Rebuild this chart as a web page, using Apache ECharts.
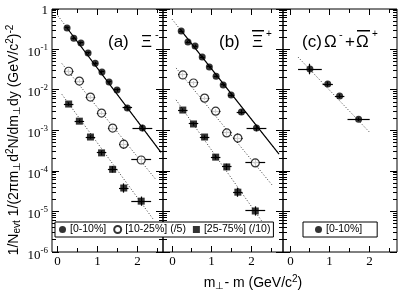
<!DOCTYPE html>
<html><head><meta charset="utf-8">
<script src="https://cdn.jsdelivr.net/npm/echarts@6/dist/echarts.min.js"></script>
<style>html,body{margin:0;padding:0;background:#fff}#c{width:399px;height:292px}</style>
</head><body><div id="c"></div>
<script>
// ---------------- data ----------------
// m_T - m bin centres (GeV/c^2) and half widths
const xFine      = [0.23, 0.40, 0.58, 0.76, 0.94, 1.11, 1.29, 1.49, 1.75, 2.13];
const xFineErr   = [0.06, 0.06, 0.06, 0.06, 0.06, 0.06, 0.06, 0.08, 0.12, 0.25];
const xWide      = [0.27, 0.54, 0.82, 1.10, 1.38, 1.66, 2.10];
const xWideErr   = [0.12, 0.12, 0.12, 0.12, 0.12, 0.12, 0.25];
const xOmega     = [0.50, 0.95, 1.25, 1.73];
const xOmegaErr  = [0.30, 0.13, 0.12, 0.28];

// (a) Xi-
const xiM_0_10    = [0.34, 0.19, 0.145, 0.082, 0.046, 0.028, 0.0158, 0.010, 0.0036, 0.00115];
const xiM_0_10e   = [0.08, 0.08, 0.08, 0.08, 0.08, 0.08, 0.08, 0.1, 0.15, 0.2];
const xiM_10_25   = [0.029, 0.0166, 0.0067, 0.0027, 0.00115, 4.6e-4, 1.87e-4];
const xiM_10_25e  = [0.15, 0.12, 0.12, 0.12, 0.15, 0.3, 0.25];
const xiM_25_75   = [4.5e-3, 1.7e-3, 6.9e-4, 2.8e-4, 1.1e-4, 3.8e-5, 1.8e-5];
const xiM_25_75e  = [0.1, 0.1, 0.1, 0.15, 0.2, 0.3, 0.3];
// (b) anti-Xi+
const xiP_0_10    = [0.286, 0.153, 0.122, 0.065, 0.037, 0.022, 0.0133, 0.0075, 0.00286, 0.00115];
const xiP_0_10e   = [0.08, 0.08, 0.08, 0.08, 0.08, 0.08, 0.08, 0.1, 0.15, 0.2];
const xiP_10_25   = [0.0235, 0.0149, 0.0063, 0.0030, 8.7e-4, 6.5e-4, 1.58e-4];
const xiP_10_25e  = [0.15, 0.12, 0.12, 0.12, 0.15, 0.3, 0.25];
const xiP_25_75   = [3.2e-3, 1.45e-3, 6.9e-4, 2.2e-4, 1.26e-4, 3.0e-5, 1.03e-5];
const xiP_25_75e  = [0.1, 0.1, 0.1, 0.15, 0.2, 0.3, 0.3];
// (c) Omega
const om_0_10     = [0.033, 0.014, 0.0071, 0.0019];
const om_0_10e    = [0.35, 0.15, 0.12, 0.1];

// exponential fit lines: end points
const fitA0x = [0, 2.6],  fitA0y = [0.68, 2.9e-4];
const fitA0sx = [0.2, 2.6], fitA0sy = [0.37, 2.9e-4];
const fitA1x = [0.1, 2.45], fitA1y = [0.045, 6.5e-5];
const fitA2x = [0.1, 2.4], fitA2y = [7.8e-3, 6.5e-6];
const fitB0x = [0, 2.7],  fitB0y = [0.56, 2.6e-4];
const fitB0sx = [0.2, 2.7], fitB0sy = [0.32, 2.6e-4];
const fitB1x = [0.1, 2.55], fitB1y = [0.035, 4.2e-5];
const fitB2x = [0.1, 2.45], fitB2y = [5.7e-3, 3.2e-6];
const fitCx = [0.2, 2.0],  fitCy = [0.065, 9.2e-4];

// axis ticks / labels
const xMajor = [0, 1, 2];
const xMajorLabels = ['0', '1', '2'];
const xMinor = [0.5, 1.5, 2.5];
const yDecades = [-6, -5, -4, -3, -2, -1, 0];
const legendNames = ['[0-10%]', '[10-25%] (/5)', '[25-75%] (/10)'];

// ---------------- layout ----------------
const grids = [
  {left: 52, top: 9, width: 111, height: 243},
  {left: 163, top: 9, width: 120, height: 243},
  {left: 283, top: 9, width: 114, height: 243}
];
const xRanges = [[-0.15, 2.65], [-0.23, 2.80], [-0.18, 2.70]];
const YMIN = 1e-6, YMAX = 1;
const SERIF = '"Liberation Serif", "DejaVu Serif", serif';
const SANS = '"Liberation Sans", Arial, sans-serif';

const zip = (xs, ys) => xs.map((x, i) => [x, ys[i]]);
const zipErr = (xs, ys, xe, ye) => xs.map((x, i) => [x, ys[i], xe[i], ye[i]]);
const crisp = v => Math.round(v - 0.5) + 0.5;

function errRender(params, api) {
  const x = api.value(0), y = api.value(1), xe = api.value(2), ye = api.value(3);
  const l = api.coord([x - xe, y]), r = api.coord([x + xe, y]);
  const t = api.coord([x, y * (1 + ye)]), b = api.coord([x, y / (1 + ye)]);
  const st = {stroke: '#000', lineWidth: 1.2};
  return {type: 'group', children: [
    {type: 'line', shape: {x1: l[0], y1: crisp(l[1]), x2: r[0], y2: crisp(r[1])}, style: st},
    {type: 'line', shape: {x1: crisp(t[0]), y1: t[1], x2: crisp(b[0]), y2: b[1]}, style: st}
  ]};
}

function tickRender(gi) {
  const [xmin, xmax] = xRanges[gi];
  return function (params, api) {
    const k = api.value(2);
    const st = {stroke: '#000', lineWidth: 1};
    const ch = [];
    if (k < 2) {
      const v = api.value(1);
      const L = api.coord([xmin, v]), R = api.coord([xmax, v]);
      const len = k === 0 ? 7 : 4;
      const yy = crisp(L[1]);
      ch.push({type: 'line', shape: {x1: L[0], y1: yy, x2: L[0] + len, y2: yy}, style: st});
      ch.push({type: 'line', shape: {x1: R[0], y1: yy, x2: R[0] - len, y2: yy}, style: st});
      if (k === 0 && gi === 0) {
        const e = Math.round(Math.log10(v));
        const txt = e === 0 ? '{b|1}' : '{b|10}{s|' + e + '}';
        ch.push({type: 'text', style: {
          text: txt, x: L[0] - 4, y: yy + (e === 0 ? 1 : 3), align: 'right', verticalAlign: 'middle',
          rich: {b: {fontSize: 13, fontFamily: SERIF, fill: '#000'},
                 s: {fontSize: 9, fontFamily: SERIF, fill: '#000', padding: [0, 0, 9, 0]}}
        }});
      }
    } else {
      const v = api.value(0);
      const B = api.coord([v, YMIN]), T = api.coord([v, YMAX]);
      const len = k === 2 ? 6 : 4;
      const xx = crisp(B[0]);
      ch.push({type: 'line', shape: {x1: xx, y1: B[1], x2: xx, y2: B[1] - len}, style: st});
      ch.push({type: 'line', shape: {x1: xx, y1: T[1], x2: xx, y2: T[1] + len}, style: st});
      if (k === 2) {
        ch.push({type: 'text', style: {
          text: xMajorLabels[xMajor.indexOf(v)], x: xx, y: B[1] + 10, align: 'center', verticalAlign: 'middle',
          fontSize: 13, fontFamily: SERIF, fill: '#000'
        }});
      }
    }
    return {type: 'group', children: ch};
  };
}

function tickData(gi) {
  const [xmin] = xRanges[gi];
  const d = [];
  yDecades.forEach(e => {
    d.push([xmin, Math.pow(10, e), 0]);
    if (e < 0) for (let m = 2; m <= 9; m++) d.push([xmin, m * Math.pow(10, e), 1]);
  });
  xMajor.forEach(v => d.push([v, YMIN, 2]));
  xMinor.forEach(v => d.push([v, YMIN, 3]));
  return d;
}

const filled = {symbol: 'circle', symbolSize: 7, itemStyle: {color: '#000'}};
const open = {symbol: 'circle', symbolSize: 8, itemStyle: {color: '#fff', borderColor: '#000', borderWidth: 1.2}};
const square = {symbol: 'rect', symbolSize: 7, itemStyle: {color: '#000'}};

function pts(gi, name, style, xs, ys, xe, ye) {
  return [
    {type: 'custom', xAxisIndex: gi, yAxisIndex: gi, renderItem: errRender, z: 3,
     encode: {x: 0, y: 1}, data: zipErr(xs, ys, xe, ye), silent: true},
    Object.assign({type: 'scatter', name: name, xAxisIndex: gi, yAxisIndex: gi, z: 4,
      data: zip(xs, ys), silent: true}, style)
  ];
}
function fit(gi, xs, ys, type, w) {
  return {type: 'line', xAxisIndex: gi, yAxisIndex: gi, data: zip(xs, ys), symbol: 'none', z: 2,
    lineStyle: {color: '#000', width: w, type: type}, silent: true};
}
function ticks(gi) {
  return {type: 'custom', xAxisIndex: gi, yAxisIndex: gi, renderItem: tickRender(gi), z: 5,
    encode: {x: 0, y: 1}, data: tickData(gi), silent: true};
}

const series = [
  fit(0, fitA0x, fitA0y, [1, 2], 0.8), fit(0, fitA0sx, fitA0sy, 'solid', 1.2),
  fit(0, fitA1x, fitA1y, [1, 2], 0.8), fit(0, fitA2x, fitA2y, [1, 2], 0.8),
  fit(1, fitB0x, fitB0y, [1, 2], 0.8), fit(1, fitB0sx, fitB0sy, 'solid', 1.2),
  fit(1, fitB1x, fitB1y, [1, 2], 0.8), fit(1, fitB2x, fitB2y, [1, 2], 0.8),
  fit(2, fitCx, fitCy, [1, 2], 0.8),
  ...pts(0, legendNames[0], filled, xFine, xiM_0_10, xFineErr, xiM_0_10e),
  ...pts(0, legendNames[1], open, xWide, xiM_10_25, xWideErr, xiM_10_25e),
  ...pts(0, legendNames[2], square, xWide, xiM_25_75, xWideErr, xiM_25_75e),
  ...pts(1, legendNames[0], filled, xFine, xiP_0_10, xFineErr, xiP_0_10e),
  ...pts(1, legendNames[1], open, xWide, xiP_10_25, xWideErr, xiP_10_25e),
  ...pts(1, legendNames[2], square, xWide, xiP_25_75, xWideErr, xiP_25_75e),
  ...pts(2, legendNames[0], filled, xOmega, om_0_10, xOmegaErr, om_0_10e),
  ticks(0), ticks(1), ticks(2)
];

const legendBase = {
  orient: 'horizontal', itemWidth: 7, itemHeight: 7, itemGap: 7, selectedMode: false,
  borderColor: '#000', borderWidth: 1, backgroundColor: '#fff', borderRadius: 0,
  textStyle: {fontSize: 10.5, fontFamily: SANS, color: '#000', padding: [0, 0, 0, -1]}, z: 10
};

const supSub = {
  n: {fontSize: 14, fontFamily: SANS, fill: '#000'},
  sb: {fontSize: 10, fontFamily: SANS, fill: '#000', padding: [7, 0, 0, 0]},
  sp: {fontSize: 10, fontFamily: SANS, fill: '#000', padding: [0, 0, 8, 0]}
};

const titleFont = {fontSize: 17, fontFamily: SANS, fill: '#000'};

const option = {
  animation: false,
  backgroundColor: '#fff',
  grid: grids.map(g => Object.assign({show: true, borderColor: '#000', borderWidth: 1, backgroundColor: 'transparent'}, g)),
  xAxis: grids.map((g, i) => ({type: 'value', gridIndex: i, min: xRanges[i][0], max: xRanges[i][1], show: false})),
  yAxis: grids.map((g, i) => ({type: 'log', logBase: 10, gridIndex: i, min: YMIN, max: YMAX, show: false})),
  legend: [
    Object.assign({}, legendBase, {data: legendNames, left: 55, top: 222, padding: [2, 3, 2, 4]}),
    Object.assign({}, legendBase, {data: [legendNames[0]], left: 303, top: 222, padding: [2, 15, 2, 12]})
  ],
  graphic: [
    {type: 'text', left: 108, top: 34, style: Object.assign({text: '(a)'}, titleFont)},
    {type: 'text', left: 141, top: 34, style: Object.assign({text: 'Ξ'}, titleFont)},
    {type: 'text', left: 155, top: 29, style: {text: '-', fontSize: 11, fontFamily: SANS, fill: '#000'}},
    {type: 'text', left: 219, top: 34, style: Object.assign({text: '(b)'}, titleFont)},
    {type: 'text', left: 252, top: 34, style: Object.assign({text: 'Ξ'}, titleFont)},
    {type: 'rect', left: 252, top: 30, shape: {width: 12, height: 1.5}, style: {fill: '#000'}},
    {type: 'text', left: 266, top: 29, style: {text: '+', fontSize: 10, fontFamily: SANS, fill: '#000'}},
    {type: 'text', left: 302, top: 34, style: Object.assign({text: '(c)'}, titleFont)},
    {type: 'text', left: 324, top: 34, style: Object.assign({text: 'Ω'}, titleFont)},
    {type: 'text', left: 339, top: 29, style: {text: '-', fontSize: 11, fontFamily: SANS, fill: '#000'}},
    {type: 'text', left: 345, top: 34, style: Object.assign({text: '+'}, titleFont)},
    {type: 'text', left: 356, top: 34, style: Object.assign({text: 'Ω'}, titleFont)},
    {type: 'rect', left: 357, top: 30, shape: {width: 13, height: 1.5}, style: {fill: '#000'}},
    {type: 'text', left: 372, top: 29, style: {text: '+', fontSize: 10, fontFamily: SANS, fill: '#000'}},
    {type: 'text', x: 253, y: 283, style: {
      text: '{n|m}{sb|⊥}{n|- m (GeV/c}{sp|2}{n|)}', align: 'center', verticalAlign: 'middle', rich: supSub}},
    {type: 'text', x: 14, y: 140, rotation: Math.PI / 2, style: {
      text: '{n|1/N}{sb|evt}{n| 1/(2πm}{sb|⊥}{n|d}{sp|2}{n|N/dm}{sb|⊥}{n|dy (GeV/c}{sp|2}{n|)}{sp|-2}',
      align: 'center', verticalAlign: 'middle', rich: supSub}}
  ],
  series: series
};

const chart = echarts.init(document.getElementById('c'), null, {renderer: 'canvas'});
chart.setOption(option);
</script>
</body></html>
